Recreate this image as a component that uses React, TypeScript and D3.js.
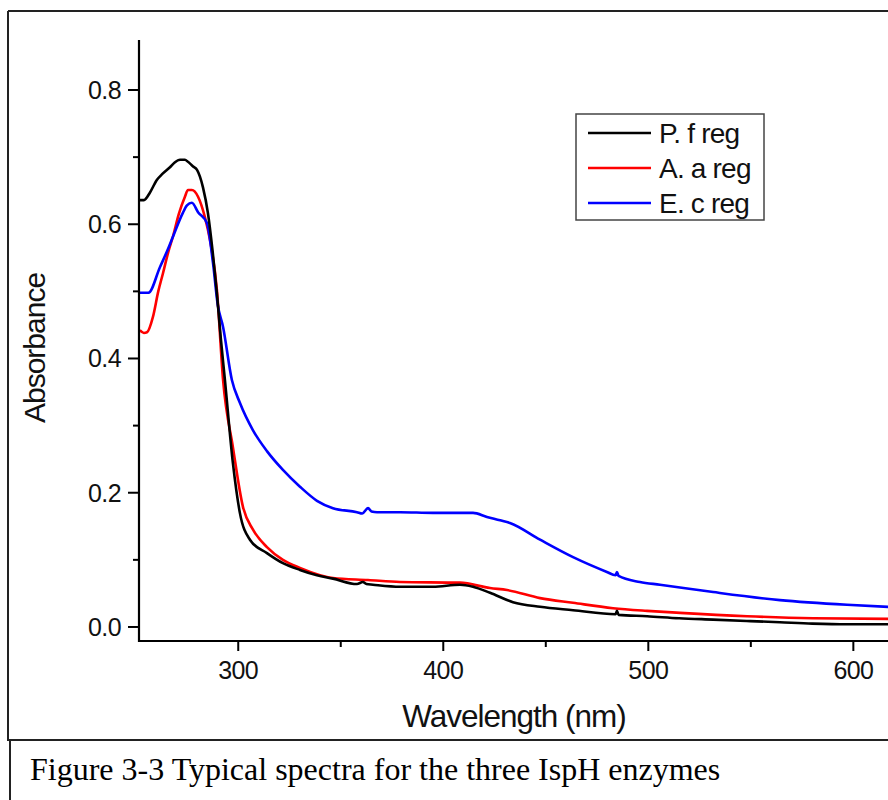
import React from "react";
import * as d3 from "d3";

// Wavelength (nm) and absorbance
const pfWl = [252.0, 254, 256.9, 260.3, 263, 266.7, 269, 271.6, 274, 275.5, 278, 279.9, 282.8, 285.2, 287.5, 289.5, 291.5, 293.5, 297.4, 300.8, 305.7, 314.0, 321.8, 330.1, 338.4, 346.2, 357.9, 360.8, 362.5, 365.7, 378.9, 395, 408.1, 414.5, 422.8, 434.0, 447.2, 463.3, 484.0, 484.7, 485.5, 499.4, 515, 531.6, 548, 564.2, 580, 597, 617];
const pfAbs = [0.636, 0.636, 0.647, 0.666, 0.675, 0.685, 0.692, 0.696, 0.696, 0.693, 0.686, 0.681, 0.655, 0.617, 0.56, 0.5, 0.43, 0.368, 0.244, 0.17, 0.13, 0.11, 0.095, 0.085, 0.077, 0.072, 0.064, 0.067, 0.064, 0.063, 0.06, 0.06, 0.063, 0.06, 0.051, 0.037, 0.03, 0.025, 0.019, 0.024, 0.018, 0.016, 0.013, 0.011, 0.009, 0.007, 0.005, 0.004, 0.004];

const aaWl = [252.0, 254, 255.5, 258.4, 261, 263.3, 266, 268.1, 271, 274.0, 275.5, 277.4, 280.4, 283.7, 286.2, 289.6, 292.6, 297.4, 302.3, 307.2, 314.0, 321.8, 330.1, 346.2, 363.3, 378.9, 408.1, 422.8, 431.1, 447.2, 463.3, 482.8, 499.4, 515.5, 548.2, 580.3, 617];
const aaAbs = [0.442, 0.438, 0.439, 0.462, 0.5, 0.527, 0.56, 0.581, 0.615, 0.641, 0.651, 0.651, 0.641, 0.611, 0.577, 0.502, 0.368, 0.268, 0.179, 0.145, 0.119, 0.1, 0.088, 0.073, 0.07, 0.067, 0.066, 0.058, 0.055, 0.043, 0.036, 0.028, 0.024, 0.021, 0.016, 0.013, 0.012];

const ecWl = [252.0, 256.2, 261.8, 266, 268.1, 273.0, 275, 277.4, 280.4, 284.7, 287.7, 290, 292.6, 296.9, 300.8, 307.2, 314.0, 321.8, 330.1, 338.4, 346.2, 357.9, 360.5, 363.3, 365, 367.7, 378.9, 395.0, 408.1, 414.5, 421.3, 427.7, 432.5, 447.2, 463.3, 479.8, 484.0, 484.7, 485.5, 495.9, 505.7, 531.6, 564.2, 596.9, 617];
const ecAbs = [0.498, 0.498, 0.536, 0.565, 0.581, 0.617, 0.628, 0.632, 0.618, 0.602, 0.542, 0.48, 0.447, 0.368, 0.334, 0.293, 0.262, 0.234, 0.209, 0.188, 0.177, 0.171, 0.169, 0.177, 0.172, 0.171, 0.171, 0.17, 0.17, 0.17, 0.164, 0.159, 0.155, 0.13, 0.104, 0.082, 0.077, 0.082, 0.076, 0.067, 0.063, 0.052, 0.04, 0.033, 0.03];

const seriesNames = ["P. f reg", "A. a reg", "E. c reg"];
const seriesColors = ["#000000", "#ff0000", "#0000ff"];
const xMajorTicks = [300, 400, 500, 600];
const xMinorTicks = [350, 450, 550];
const yMajorTicks = [0, 0.2, 0.4, 0.6, 0.8];
const yMinorTicks = [0.1, 0.3, 0.5, 0.7];
const caption = "Figure 3-3 Typical spectra for the three IspH enzymes";

export default function App() {
  const W = 888, H = 800;
  const left = 139, right = 888, top = 40, bottom = 641;
  const x = d3.scaleLinear().domain([251.6, 616.9]).range([left, right]);
  const y = d3.scaleLinear().domain([-0.0209, 0.8745]).range([bottom, top]);
  const series = [
    pfWl.map((w, i) => [w, pfAbs[i]]),
    aaWl.map((w, i) => [w, aaAbs[i]]),
    ecWl.map((w, i) => [w, ecAbs[i]]),
  ];
  const line = d3.line<number[]>().x(d => x(d[0])).y(d => y(d[1])).curve(d3.curveMonotoneX);
  const sans = "'Liberation Sans', Arial, sans-serif";
  const fmt = d3.format(".1f");
  return (
    <svg width={W} height={H} style={{ position: "absolute", left: 0, top: 0, background: "#fff" }}>
      <rect x={0} y={0} width={W} height={H} fill="#fff" />
      {/* outer figure box */}
      <line x1={8} y1={11} x2={888} y2={11} stroke="#222" strokeWidth={2} />
      <line x1={8} y1={11} x2={8} y2={741} stroke="#222" strokeWidth={2} />
      <line x1={8} y1={740} x2={888} y2={740} stroke="#222" strokeWidth={2} />
      <line x1={10} y1={740} x2={10} y2={800} stroke="#222" strokeWidth={2} />
      <defs>
        <clipPath id="plotclip">
          <rect x={left} y={top} width={right - left} height={bottom - top} />
        </clipPath>
      </defs>
      <g clipPath="url(#plotclip)">
        {[1, 2, 0].map(i => (
          <path key={i} d={line(series[i] as number[][]) || ""} fill="none" stroke={seriesColors[i]} strokeWidth={2.6} strokeLinejoin="round" />
        ))}
      </g>
      {/* axes */}
      <line x1={left} y1={top} x2={left} y2={bottom + 1} stroke="#000" strokeWidth={2.2} />
      <line x1={left - 1} y1={bottom} x2={right} y2={bottom} stroke="#000" strokeWidth={2.2} />
      {yMajorTicks.map(t => (
        <g key={"ym" + t}>
          <line x1={left - 11} x2={left} y1={y(t)} y2={y(t)} stroke="#000" strokeWidth={2} />
          <text x={121} y={y(t) + 9} textAnchor="end" fontFamily={sans} fontSize={25} letterSpacing={-0.6} fill="#111">{fmt(t)}</text>
        </g>
      ))}
      {yMinorTicks.map(t => (
        <line key={"yn" + t} x1={left - 6} x2={left} y1={y(t)} y2={y(t)} stroke="#000" strokeWidth={2} />
      ))}
      {xMajorTicks.map(t => (
        <g key={"xm" + t}>
          <line x1={x(t)} x2={x(t)} y1={bottom} y2={bottom + 10} stroke="#000" strokeWidth={2} />
          <text x={x(t)} y={679} textAnchor="middle" fontFamily={sans} fontSize={25} letterSpacing={-0.6} fill="#111">{t}</text>
        </g>
      ))}
      {xMinorTicks.map(t => (
        <line key={"xn" + t} x1={x(t)} x2={x(t)} y1={bottom} y2={bottom + 6} stroke="#000" strokeWidth={2} />
      ))}
      <text x={514} y={727} textAnchor="middle" fontFamily={sans} fontSize={31.5} letterSpacing={-1} fill="#111">Wavelength (nm)</text>
      <text transform="translate(45,348) rotate(-90)" textAnchor="middle" fontFamily={sans} fontSize={30} letterSpacing={-1} fill="#111">Absorbance</text>
      {/* legend */}
      <rect x={576} y={114} width={188} height={106} fill="#fff" stroke="#444" strokeWidth={1.5} />
      {seriesNames.map((n, i) => (
        <g key={n}>
          <line x1={588} x2={651} y1={133 + i * 35} y2={133 + i * 35} stroke={seriesColors[i]} strokeWidth={2.6} />
          <text x={659} y={143 + i * 35} fontFamily={sans} fontSize={28} letterSpacing={-0.8} fill="#111">{n}</text>
        </g>
      ))}
      <text x={30} y={780} fontFamily="'Liberation Serif', 'Times New Roman', serif" fontSize={32} fill="#000">{caption}</text>
    </svg>
  );
}
